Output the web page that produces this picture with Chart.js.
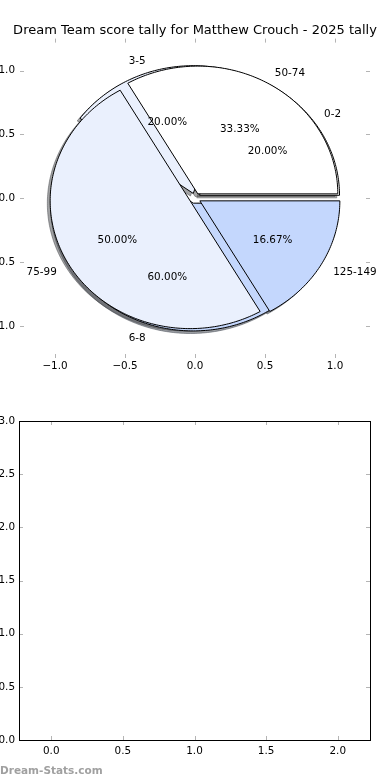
<!DOCTYPE html>
<html><head><meta charset="utf-8">
<script src="https://cdn.jsdelivr.net/npm/chart.js@4.4.1/dist/chart.umd.min.js"></script>
<style>
html,body{margin:0;padding:0;background:#fff;width:390px;height:780px;overflow:hidden;}
canvas{position:absolute;left:0;}
#c1{top:0}
#c2{top:390px}
</style></head><body>
<canvas id="c1" width="390" height="390"></canvas>
<canvas id="c2" width="390" height="390"></canvas>
<script>
// ---- data ----
const titleText = 'Dream Team score tally for Matthew Crouch - 2025 tally';
const innerLabels = ['0-2', '3-5', '6-8'];
const innerCounts = [1, 1, 3];
const outerLabels = ['50-74', '75-99', '125-149'];
const outerCounts = [2, 3, 1];
const pieTicks = [-1.0, -0.5, 0.0, 0.5, 1.0];
const lowerXTicks = [0.0, 0.5, 1.0, 1.5, 2.0];
const lowerYTicks = [0.0, 0.5, 1.0, 1.5, 2.0, 2.5, 3.0];
const watermarkText = 'Dream-Stats.com';

// ---- styles ----
const sliceColors = [[255,255,255],[234,240,253],[196,215,253]];
const FONT = 'DejaVu Sans';
const FS = 10.4;
const EXPLODE = 0.04, RADIUS = 1, LABEL_DIST = 1.1, PCT_DIST = 0.6, SHADOW = 0.02;
const TICK_COLOR = '#b4b4b4';
const TEXT_DY = 1.5;

const fmt = v => { const s = Number(v).toFixed(1); return s.startsWith('-') ? '\u2212' + s.slice(1) : s; };

function pieGeometry(counts) {
  const total = counts.reduce((a, b) => a + b, 0);
  let start = 0;
  return counts.map(v => {
    const sweep = 360 * v / total;
    const g = { a1: start, a2: start + sweep, mid: start + sweep / 2, frac: v / total };
    start += sweep;
    return g;
  });
}

function wedgePath(ctx, xs, ys, cx, cy, r, a1, a2) {
  ctx.beginPath();
  ctx.moveTo(xs.getPixelForValue(cx), ys.getPixelForValue(cy));
  const n = Math.max(8, Math.ceil(a2 - a1));
  for (let i = 0; i <= n; i++) {
    const a = (a1 + (a2 - a1) * i / n) * Math.PI / 180;
    ctx.lineTo(xs.getPixelForValue(cx + r * Math.cos(a)), ys.getPixelForValue(cy + r * Math.sin(a)));
  }
  ctx.closePath();
}

const pies = [
  { labels: innerLabels, geo: pieGeometry(innerCounts) },
  { labels: outerLabels, geo: pieGeometry(outerCounts) }
];

const piePlugin = {
  id: 'pies',
  afterDatasetsDraw(chart) {
    const ctx = chart.ctx, xs = chart.scales.x, ys = chart.scales.y;
    ctx.save();
    ctx.lineJoin = 'miter';
    // shadows
    pies.forEach(p => p.geo.forEach((g, i) => {
      const m = g.mid * Math.PI / 180;
      const cx = EXPLODE * Math.cos(m) - SHADOW, cy = EXPLODE * Math.sin(m) - SHADOW;
      const c = sliceColors[i % sliceColors.length];
      const sc = `rgba(${Math.round(c[0]*0.3)},${Math.round(c[1]*0.3)},${Math.round(c[2]*0.3)},0.5)`;
      wedgePath(ctx, xs, ys, cx, cy, RADIUS, g.a1, g.a2);
      ctx.fillStyle = sc; ctx.fill();
      ctx.strokeStyle = sc; ctx.lineWidth = 1; ctx.stroke();
    }));
    // wedges
    pies.forEach(p => p.geo.forEach((g, i) => {
      const m = g.mid * Math.PI / 180;
      const cx = EXPLODE * Math.cos(m), cy = EXPLODE * Math.sin(m);
      const c = sliceColors[i % sliceColors.length];
      wedgePath(ctx, xs, ys, cx, cy, RADIUS, g.a1, g.a2);
      ctx.fillStyle = `rgb(${c[0]},${c[1]},${c[2]})`; ctx.fill();
      ctx.strokeStyle = '#000'; ctx.lineWidth = 1; ctx.stroke();
    }));
    // texts
    ctx.font = `${FS}px "${FONT}"`;
    ctx.fillStyle = '#000';
    ctx.textBaseline = 'middle';
    pies.forEach(p => p.geo.forEach((g, i) => {
      const m = g.mid * Math.PI / 180;
      const cx = EXPLODE * Math.cos(m), cy = EXPLODE * Math.sin(m);
      const lx = cx + LABEL_DIST * RADIUS * Math.cos(m), ly = cy + LABEL_DIST * RADIUS * Math.sin(m);
      ctx.textAlign = lx > 0 ? 'left' : 'right';
      ctx.fillText(p.labels[i], xs.getPixelForValue(lx), ys.getPixelForValue(ly) + TEXT_DY);
      const px = cx + PCT_DIST * RADIUS * Math.cos(m), py = cy + PCT_DIST * RADIUS * Math.sin(m);
      ctx.textAlign = 'center';
      ctx.fillText((g.frac * 100).toFixed(2) + '%', xs.getPixelForValue(px), ys.getPixelForValue(py) + TEXT_DY);
    }));
    ctx.restore();
  }
};

const tickPlugin = {
  id: 'inTicks',
  afterDraw(chart) {
    const ctx = chart.ctx, a = chart.chartArea, xs = chart.scales.x, ys = chart.scales.y;
    const L = 4;
    ctx.save();
    ctx.strokeStyle = TICK_COLOR; ctx.lineWidth = 1;
    ctx.beginPath();
    xs.ticks.forEach(t => {
      const x = Math.round(xs.getPixelForValue(t.value)) + 0.5;
      ctx.moveTo(x, a.top); ctx.lineTo(x, a.top + L);
      ctx.moveTo(x, a.bottom); ctx.lineTo(x, a.bottom - L);
    });
    ys.ticks.forEach(t => {
      const y = Math.round(ys.getPixelForValue(t.value)) + 0.5;
      ctx.moveTo(a.left, y); ctx.lineTo(a.left + L, y);
      ctx.moveTo(a.right, y); ctx.lineTo(a.right - L, y);
    });
    ctx.stroke();
    if (chart.options.plugins.inTicks && chart.options.plugins.inTicks.frame) {
      ctx.strokeStyle = '#000'; ctx.lineWidth = 1;
      ctx.strokeRect(Math.round(a.left) + 0.5, Math.round(a.top) + 0.5, Math.round(a.right - a.left), Math.round(a.bottom - a.top));
    }
    if (chart.options.plugins.inTicks && chart.options.plugins.inTicks.watermark) {
      ctx.font = `bold 10.5px "${FONT}"`;
      ctx.fillStyle = '#a0a0a0';
      ctx.textAlign = 'left'; ctx.textBaseline = 'alphabetic';
      ctx.fillText(watermarkText, 0, 384);
    }
    ctx.restore();
  }
};

function axis(min, max, ticksList, size, pad, isY) {
  return {
    type: 'linear', min, max,
    afterBuildTicks: s => { s.ticks = ticksList.map(v => ({ value: v })); },
    afterFit: s => { if (isY) s.width = size; else s.height = size; },
    grid: { display: false, drawTicks: false },
    border: { display: false },
    ticks: { callback: fmt, color: '#000', font: { family: FONT, size: FS }, padding: pad, maxRotation: 0, autoSkip: false }
  };
}

function spacerAxis(width) {
  return {
    type: 'linear', position: 'right', min: 0, max: 1, display: true,
    afterFit: s => { s.width = width; },
    grid: { display: false, drawTicks: false },
    border: { display: false },
    ticks: { display: false }
  };
}

Chart.defaults.animation = false;

new Chart(document.getElementById('c1'), {
  type: 'scatter',
  data: { datasets: [{ data: [] }] },
  options: {
    responsive: false, maintainAspectRatio: false,
    layout: { padding: { left: 0, right: 0, top: 0, bottom: 12 } },
    scales: {
      x: axis(-1.25, 1.25, pieTicks, 20, 2, false),
      y: axis(-1.25, 1.25, pieTicks, 20, 5, true),
      yRight: spacerAxis(20)
    },
    plugins: {
      legend: { display: false }, tooltip: { enabled: false },
      title: { display: true, text: titleText, color: '#000', font: { family: FONT, size: 13, weight: 'normal' }, padding: { top: 23, bottom: 0 }, align: 'center' },
      inTicks: { frame: false }
    }
  },
  plugins: [piePlugin, tickPlugin]
});

new Chart(document.getElementById('c2'), {
  type: 'scatter',
  data: { datasets: [{ data: [] }] },
  options: {
    responsive: false, maintainAspectRatio: false,
    layout: { padding: { left: 0, right: 0, top: 31, bottom: 20 } },
    scales: {
      x: axis(-0.225, 2.225, lowerXTicks, 20, 5, false),
      y: axis(0, 3, lowerYTicks, 19, 4, true),
      yRight: spacerAxis(20)
    },
    plugins: {
      legend: { display: false }, tooltip: { enabled: false },
      inTicks: { frame: true, watermark: true }
    }
  },
  plugins: [tickPlugin]
});
</script>
</body></html>
